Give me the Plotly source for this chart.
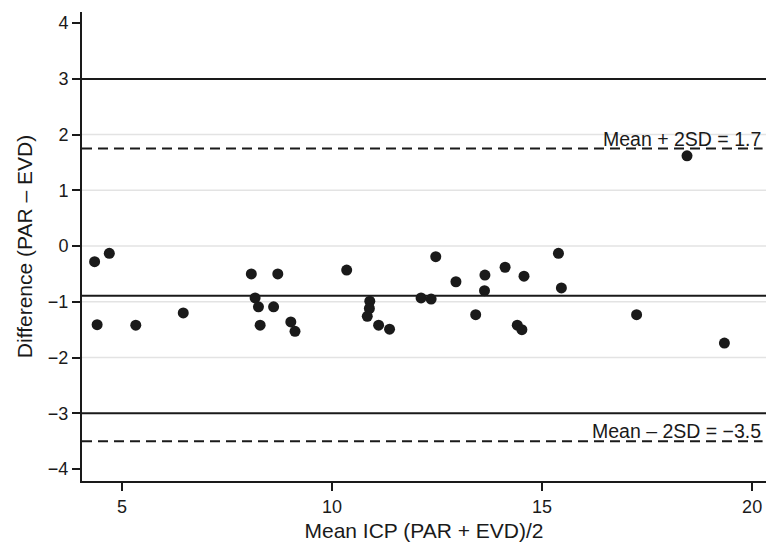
import plotly.graph_objects as go

# ---- data ----
mean_icp = [4.35, 4.70, 4.41, 5.33, 6.46, 8.08, 8.17, 8.25, 8.29, 8.71, 8.61, 9.02, 9.12,
            10.35, 10.90, 10.89, 10.84, 11.11, 11.37, 12.12, 12.36, 12.47, 12.95, 13.42,
            13.64, 13.63, 14.12, 14.41, 14.52, 14.57, 15.39, 15.46, 17.25, 18.45, 19.34]
difference = [-0.28, -0.13, -1.41, -1.42, -1.20, -0.50, -0.93, -1.09, -1.42, -0.50, -1.09,
              -1.36, -1.53, -0.43, -0.99, -1.12, -1.26, -1.42, -1.49, -0.93, -0.95, -0.19,
              -0.64, -1.23, -0.52, -0.80, -0.38, -1.42, -1.50, -0.54, -0.13, -0.75, -1.23,
              1.62, -1.74]
mean_diff = -0.89
upper_loa = 1.75
lower_loa = -3.50
limit_lines = [3, -3]
grid_values = [-2, -1, 0, 1, 2]
x_ticks = [5, 10, 15, 20]
y_ticks = [-4, -3, -2, -1, 0, 1, 2, 3, 4]
upper_label = "Mean + 2SD = 1.7"
lower_label = "Mean \u2013 2SD = \u22123.5"

FONT = "Liberation Sans, Arial, Helvetica, sans-serif"
INK = "#1a1a1a"

fig = go.Figure()
fig.add_trace(go.Scatter(
    x=mean_icp, y=difference, mode="markers",
    marker=dict(size=11, color=INK, line=dict(width=0)),
    showlegend=False, hoverinfo="x+y"))

shapes = []
for g in grid_values:
    shapes.append(dict(type="line", xref="paper", x0=0, x1=1, yref="y", y0=g, y1=g,
                       line=dict(color="#e3e3e3", width=1.5), layer="below"))
for v in limit_lines + [mean_diff]:
    shapes.append(dict(type="line", xref="paper", x0=0, x1=1, yref="y", y0=v, y1=v,
                       line=dict(color=INK, width=2), layer="below"))
for v in [upper_loa, lower_loa]:
    shapes.append(dict(type="line", xref="paper", x0=0, x1=0.995, yref="y", y0=v, y1=v,
                       line=dict(color=INK, width=2, dash="10px,6px"), layer="below"))

annotations = [
    dict(text=upper_label, xref="paper", x=0.995, xanchor="right", yref="y", y=upper_loa,
         yanchor="bottom", yshift=-3, showarrow=False, font=dict(size=19.5, color=INK, family=FONT)),
    dict(text=lower_label, xref="paper", x=0.995, xanchor="right", yref="y", y=lower_loa,
         yanchor="bottom", yshift=-3, showarrow=False, font=dict(size=19.5, color=INK, family=FONT)),
]

fig.update_layout(
    width=772, height=545,
    margin=dict(l=82, r=6, t=12, b=60),
    paper_bgcolor="white", plot_bgcolor="white",
    font=dict(family=FONT, color=INK, size=18),
    shapes=shapes, annotations=annotations,
    xaxis=dict(range=[4.05, 20.33], tickvals=x_ticks, showgrid=False, zeroline=False,
               showline=True, linecolor=INK, linewidth=2,
               ticks="outside", ticklen=8, tickwidth=2, tickcolor=INK,
               tickfont=dict(size=18, color=INK),
               title=dict(text="Mean ICP (PAR + EVD)/2", font=dict(size=21, color=INK), standoff=8)),
    yaxis=dict(range=[-4.215, 4.2], tickvals=y_ticks, showgrid=False, zeroline=False,
               showline=True, linecolor=INK, linewidth=2,
               ticks="outside", ticklen=8, tickwidth=2, tickcolor=INK,
               tickfont=dict(size=18, color=INK),
               title=dict(text="Difference (PAR \u2013 EVD)", font=dict(size=21, color=INK), standoff=10)),
)

fig.write_html(
    "out.html",
    config={"displayModeBar": False},
    post_script="document.body.style.margin='0';document.body.style.padding='0';"
                "document.body.style.overflow='hidden';",
)
